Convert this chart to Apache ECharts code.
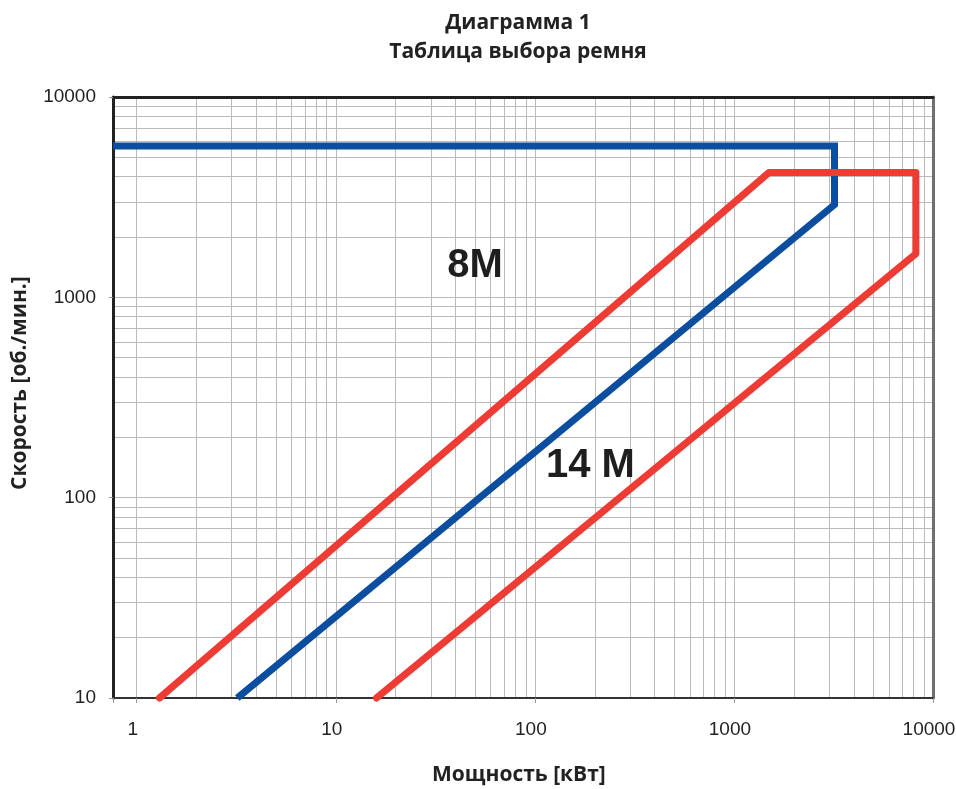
<!DOCTYPE html>
<html>
<head>
<meta charset="utf-8">
<script src="https://cdn.jsdelivr.net/npm/echarts@6/dist/echarts.min.js"></script>
<style>
  html, body { margin: 0; padding: 0; background: #fff; }
  #chart { width: 956px; height: 789px; }
</style>
</head>
<body>
<div id="chart"></div>
<script>
// Belt selection chart: power [kW] vs speed [rpm], both on log scales.
const titleLines = ['Диаграмма 1', 'Таблица выбора ремня'];
const xAxisTitle = 'Мощность [кВт]';
const yAxisTitle = 'Скорость [об./мин.]';

// Axis ranges and tick labels (decades)
const powerMin = 0.76;
const powerMax = 10000;
const speedMin = 10;
const speedMax = 10000;
const xTickLabels = ['1', '10', '100', '1000', '10000'];
const yTickLabels = ['10', '100', '1000', '10000'];

// 14M profile boundary (blue)
const power14M = [0.76, 3200, 3200, 3.2];
const speed14M = [5700, 5700, 2900, 10];

// 8M profile boundary (red)
const power8M = [1.3, 1500, 8200, 8200, 16];
const speed8M = [10, 4200, 4200, 1650, 10];

// Zone captions
const zoneNames = ['8M', '14 M'];
const zonePower = [50, 190];
const zoneSpeed = [1430, 144];

const lg = Math.log10;
const xMin = lg(powerMin), xMax = lg(powerMax);
const yMin = lg(speedMin), yMax = lg(speedMax);

// Log-grid positions: 1..9 within each decade
function logGrid(fromDecade, toDecade) {
  const out = [];
  for (let d = fromDecade; d < toDecade; d++) {
    for (let k = 1; k <= 9; k++) out.push(d + lg(k));
  }
  out.push(toDecade);
  return out;
}
const gridX = logGrid(0, 4);
const gridY = logGrid(1, 4);
const xDecades = xTickLabels.map(t => lg(Number(t)));
const yDecades = yTickLabels.map(t => lg(Number(t)));

const toPairs = (xs, ys) => xs.map((x, i) => [lg(x), lg(ys[i])]);
const fmtDecade = v => String(Math.round(Math.pow(10, v)));

const labelFont = { fontFamily: "'Liberation Sans', Arial, sans-serif", fontSize: 19, color: '#222' };
const nameFont = { fontFamily: "'Open Sans', 'Noto Sans', sans-serif", fontWeight: 'bold', fontSize: 21, fill: '#222' };
const gridLineStyle = { color: '#bababa', width: 1 };

const chart = echarts.init(document.getElementById('chart'), null, { renderer: 'canvas' });

chart.setOption({
  animation: false,
  backgroundColor: '#fff',
  title: {
    text: titleLines.join('\n'),
    left: 518,
    top: 9,
    padding: 0,
    textAlign: 'center',
    textStyle: {
      fontFamily: "'Open Sans', 'Noto Sans', sans-serif",
      fontWeight: 'bold',
      fontSize: 21,
      lineHeight: 29,
      color: '#222'
    }
  },
  grid: { left: 113, right: 23, top: 97, bottom: 91, containLabel: false, outerBoundsMode: 'none' },
  xAxis: [
    {
      type: 'value', min: xMin, max: xMax, position: 'bottom',
      axisLine: { show: true, onZero: false, lineStyle: { color: '#333', width: 2 } },
      axisTick: { show: false, customValues: gridX },
      splitLine: { show: true, lineStyle: gridLineStyle },
      axisLabel: Object.assign({ customValues: xDecades, formatter: fmtDecade, margin: 22, padding: [0, 8, 0, 0] }, labelFont)
    },
    {
      type: 'value', min: xMin, max: xMax, position: 'bottom',
      axisLine: { show: false, onZero: false },
      axisTick: { show: true, length: 5, customValues: [xMin].concat(xDecades), lineStyle: { color: '#999', width: 1 } },
      splitLine: { show: false },
      axisLabel: { show: false }
    },
    {
      type: 'value', min: xMin, max: xMax, position: 'top',
      axisLine: { show: true, onZero: false, lineStyle: { color: '#222', width: 3 } },
      axisTick: { show: false },
      splitLine: { show: false },
      axisLabel: { show: false }
    }
  ],
  yAxis: [
    {
      type: 'value', min: yMin, max: yMax, position: 'left',
      axisLine: { show: true, onZero: false, lineStyle: { color: '#222', width: 3 } },
      axisTick: { show: false, customValues: gridY },
      splitLine: { show: true, lineStyle: gridLineStyle },
      axisLabel: Object.assign({ customValues: yDecades, formatter: fmtDecade, margin: 17 }, labelFont)
    },
    {
      type: 'value', min: yMin, max: yMax, position: 'left',
      axisLine: { show: false, onZero: false },
      axisTick: { show: true, length: 4, customValues: yDecades, lineStyle: { color: '#999', width: 1 } },
      splitLine: { show: false },
      axisLabel: { show: false }
    },
    {
      type: 'value', min: yMin, max: yMax, position: 'right',
      axisLine: { show: true, onZero: false, lineStyle: { color: '#707070', width: 3 } },
      axisTick: { show: false },
      splitLine: { show: false },
      axisLabel: { show: false }
    }
  ],
  series: [
    {
      name: '14M',
      type: 'line',
      data: toPairs(power14M, speed14M),
      showSymbol: false,
      clip: false,
      z: 3,
      lineStyle: { color: '#0b4ea0', width: 7, cap: 'butt', join: 'miter' }
    },
    {
      name: '8M',
      type: 'line',
      data: toPairs(power8M, speed8M),
      showSymbol: false,
      clip: false,
      z: 4,
      lineStyle: { color: '#ee3b33', width: 7, cap: 'round', join: 'round' }
    },
    {
      name: 'zones',
      type: 'scatter',
      symbolSize: 0,
      silent: true,
      z: 5,
      itemStyle: { opacity: 1 },
      data: zoneNames.map((n, i) => ({ value: [lg(zonePower[i]), lg(zoneSpeed[i])], name: n })),
      label: {
        show: true,
        position: 'inside',
        formatter: p => p.name,
        fontFamily: "'Liberation Sans', Arial, sans-serif",
        fontWeight: 'bold',
        fontSize: 40,
        color: '#1e1e1e',
        opacity: 1
      }
    }
  ],
  graphic: [
    {
      type: 'text',
      left: 432, top: 765,
      style: Object.assign({ text: xAxisTitle }, nameFont)
    },
    {
      type: 'text',
      x: 10, y: 490,
      rotation: Math.PI / 2,
      style: Object.assign({ text: yAxisTitle }, nameFont)
    }
  ]
});
</script>
</body>
</html>
